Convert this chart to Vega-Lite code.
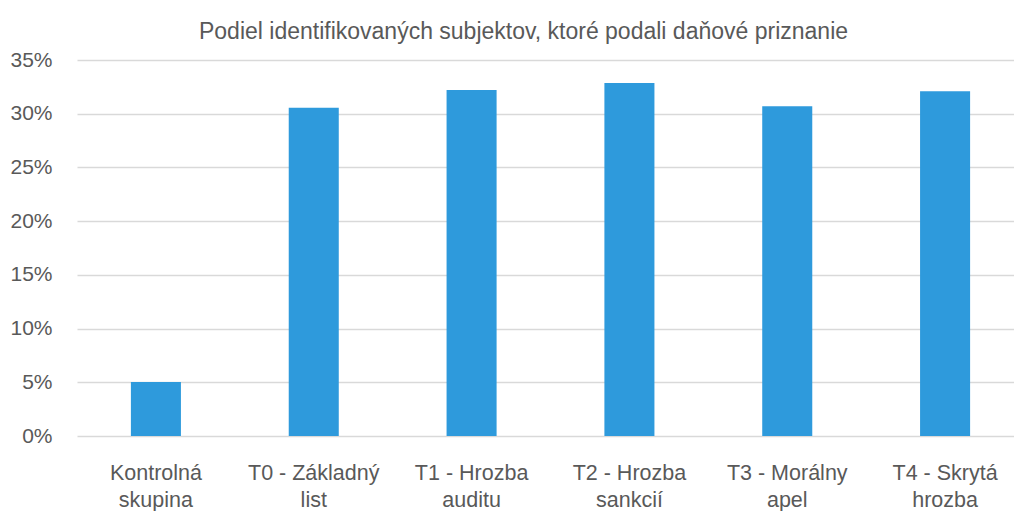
{
  "$schema": "https://vega.github.io/schema/vega-lite/v6.json",
  "autosize": "none",
  "width": 937,
  "height": 376,
  "padding": {"left": 77, "top": 60, "right": 0, "bottom": 75},
  "background": "white",
  "config": {
    "view": {"stroke": null},
    "font": "Liberation Sans"
  },
  "title": {
    "text": "Podiel identifikovaných subjektov, ktoré podali daňové priznanie",
    "font": "Liberation Sans",
    "fontSize": 23,
    "fontWeight": "normal",
    "color": "#595959",
    "anchor": "middle",
    "frame": "group",
    "baseline": "alphabetic",
    "offset": -13,
    "dx": -22
  },
  "data": {
    "values": [
      {"skupina": "Kontrolná skupina", "podiel": 0.0502},
      {"skupina": "T0 - Základný list", "podiel": 0.3055},
      {"skupina": "T1 - Hrozba auditu", "podiel": 0.3220},
      {"skupina": "T2 - Hrozba sankcií", "podiel": 0.3287},
      {"skupina": "T3 - Morálny apel", "podiel": 0.3070},
      {"skupina": "T4 - Skrytá hrozba", "podiel": 0.3210}
    ]
  },
  "mark": {"type": "bar", "color": "#2E9ADC"},
  "encoding": {
    "x": {
      "field": "skupina",
      "type": "nominal",
      "sort": null,
      "scale": {"range": [0, 947], "paddingInner": 0.683, "paddingOuter": 0.3415},
      "axis": {
        "title": null,
        "domain": false,
        "ticks": false,
        "tickSize": 0,
        "labelAngle": 0,
        "labelFont": "Liberation Sans",
        "labelFontSize": 21.5,
        "labelColor": "#595959",
        "labelBaseline": "alphabetic",
        "labelPadding": 43,
        "labelLineHeight": 27,
        "labelExpr": "[substring(datum.value, 0, lastindexof(datum.value, ' ')), substring(datum.value, lastindexof(datum.value, ' ') + 1)]"
      }
    },
    "y": {
      "field": "podiel",
      "type": "quantitative",
      "scale": {"domain": [0, 0.35], "nice": false},
      "axis": {
        "title": null,
        "values": [0, 0.05, 0.1, 0.15, 0.2, 0.25, 0.3, 0.35],
        "format": ".0%",
        "domain": false,
        "ticks": false,
        "tickSize": 0,
        "labelPadding": 25,
        "labelFont": "Liberation Sans",
        "labelFontSize": 21,
        "labelColor": "#595959",
        "gridColor": "#D9D9D9",
        "gridWidth": 1.5
      }
    }
  }
}
